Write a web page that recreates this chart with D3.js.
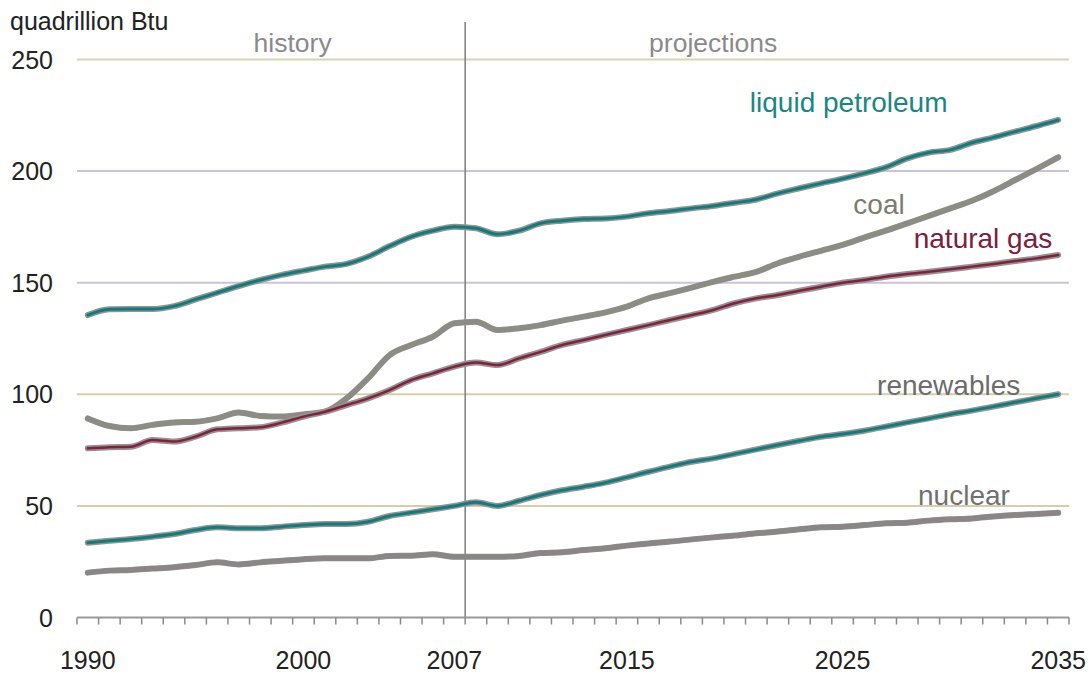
<!DOCTYPE html>
<html>
<head>
<meta charset="utf-8">
<script src="https://cdn.jsdelivr.net/npm/d3@7"></script>
<style>
  body { margin: 0; background: #fff; }
  svg { display: block; font-family: "Liberation Sans", Arial, sans-serif; }
</style>
</head>
<body>
<div id="chart"></div>
<script>
const width = 1089;
const height = 673;

// Categories / ticks
const years = d3.range(1990, 2036);
const yearLabels = [1990, 2000, 2007, 2015, 2025, 2035];
const yTicks = [0, 50, 100, 150, 200, 250];
const lastHistoryYear = 2007;

// World energy consumption by fuel, quadrillion Btu
const liquids = [
  135.5, 138.1, 138.2, 138.2, 139.5, 142.5, 145.5, 148.5, 151.2, 153.5,
  155.4, 157.2, 158.4, 161.7, 166.4, 170.6, 173.3, 175.1, 174.4, 171.7,
  173.3, 176.6, 177.8, 178.5, 178.8, 179.6, 181.1, 182.1, 183.3, 184.4,
  185.8, 187.3, 190.0, 192.3, 194.5, 196.6, 199.0, 201.7, 205.7, 208.3,
  209.5, 212.7, 215.1, 217.7, 220.2, 222.9
];
const coal = [
  89.2, 85.8, 84.8, 86.3, 87.4, 87.7, 89.2, 91.8, 90.3, 90.0,
  91.0, 92.2, 98.2, 107.2, 117.6, 122.1, 125.8, 131.8, 132.5, 128.8,
  129.6, 131.0, 133.0, 134.8, 136.7, 139.3, 143.0, 145.3, 147.8, 150.4,
  152.7, 154.9, 158.7, 161.7, 164.3, 166.9, 170.2, 173.3, 176.6, 179.9,
  183.3, 186.7, 191.0, 196.0, 201.0, 206.2
];
const naturalGas = [
  75.8, 76.3, 76.5, 79.5, 78.8, 81.0, 84.3, 84.8, 85.2, 87.3,
  90.0, 92.2, 95.2, 98.2, 101.9, 106.4, 109.4, 112.4, 114.2, 113.1,
  116.1, 119.0, 122.1, 124.3, 126.6, 128.8, 131.0, 133.3, 135.5, 137.8,
  140.8, 143.0, 144.5, 146.4, 148.2, 150.0, 151.2, 152.7, 153.9, 154.9,
  156.0, 157.2, 158.4, 159.7, 160.9, 162.4
];
const renewables = [
  33.5, 34.4, 35.2, 36.2, 37.4, 39.2, 40.4, 40.0, 40.0, 40.7,
  41.4, 41.9, 41.9, 42.9, 45.5, 47.0, 48.5, 50.0, 51.6, 50.0,
  52.3, 54.9, 57.0, 58.6, 60.4, 62.8, 65.3, 67.6, 69.8, 71.3,
  73.3, 75.3, 77.3, 79.2, 81.0, 82.2, 83.7, 85.5, 87.4, 89.2,
  91.1, 92.7, 94.5, 96.4, 98.2, 100.0
];
const nuclear = [
  20.1, 21.0, 21.3, 21.9, 22.5, 23.5, 24.7, 23.8, 24.7, 25.4,
  26.1, 26.5, 26.5, 26.5, 27.6, 27.7, 28.3, 27.2, 27.2, 27.2,
  27.6, 28.9, 29.2, 30.2, 31.0, 32.2, 33.2, 34.0, 35.0, 35.9,
  36.7, 37.7, 38.5, 39.5, 40.4, 40.7, 41.4, 42.2, 42.5, 43.4,
  44.0, 44.4, 45.2, 45.9, 46.4, 46.9
];

const seriesNames = ["liquid petroleum", "coal", "natural gas", "renewables", "nuclear"];
const seriesValues = [liquids, coal, naturalGas, renewables, nuclear];
// label anchors in data units (year, value)
const labelYears = [2020.7, 2025.5, 2028.3, 2026.6, 2028.5];
const labelValues = [226.5, 180.8, 165.5, 99.7, 50.4];

// styles per series
const coreColor = ["#0f7d7b", "#8c8c84", "#84203a", "#0f7d7b", "#8a8686"];
const coreWidth = [3, 5, 2.5, 3, 5];
const labelColor = ["#1a8684", "#7b7b72", "#7a2040", "#6c6c6c", "#707070"];
const gridColor = { 250: "#d8d4b4", 200: "#cbc3dc", 150: "#cbc3dc", 100: "#d3cfae", 50: "#d3cfae" };

// Scales: one band per year, lines through band centres
const x = d3.scaleLinear()
    .domain([1989.5, 2035.5])
    .range([77, 1069]);

const y = d3.scaleLinear()
    .domain([0, 250])
    .range([617.5, 59.5]);

const svg = d3.select("#chart")
    .append("svg")
    .attr("width", width)
    .attr("height", height);

// Gridlines
svg.append("g")
    .selectAll("line")
    .data(yTicks.filter(d => d > 0))
    .join("line")
    .attr("x1", x(1989.5))
    .attr("x2", x(2035.5))
    .attr("y1", d => y(d))
    .attr("y2", d => y(d))
    .attr("stroke", d => gridColor[d])
    .attr("stroke-width", 2);

// Y tick labels
svg.append("g")
    .selectAll("text")
    .data(yTicks)
    .join("text")
    .attr("x", x(1989.5) - 24)
    .attr("y", d => y(d) + 9)
    .attr("text-anchor", "end")
    .attr("font-size", 25)
    .attr("fill", "#222")
    .text(d => d);

// Unit title
svg.append("text")
    .attr("x", 10)
    .attr("y", 30)
    .attr("font-size", 25)
    .attr("fill", "#222")
    .text("quadrillion Btu");

// History / projections divider
svg.append("line")
    .attr("x1", x(lastHistoryYear + 0.5))
    .attr("x2", x(lastHistoryYear + 0.5))
    .attr("y1", 22)
    .attr("y2", y(0))
    .attr("stroke", "#7d7d7d")
    .attr("stroke-width", 1.5);

svg.append("text")
    .attr("x", x(1999.5))
    .attr("y", y(250) - 8)
    .attr("text-anchor", "middle")
    .attr("font-size", 26.5)
    .attr("fill", "#8a8a8a")
    .text("history");

svg.append("text")
    .attr("x", x(2019))
    .attr("y", y(250) - 8)
    .attr("text-anchor", "middle")
    .attr("font-size", 26.5)
    .attr("fill", "#8a8a8a")
    .text("projections");

// X axis line + boundary ticks
const xAxis = svg.append("g");
xAxis.append("line")
    .attr("x1", x(1989.5))
    .attr("x2", x(2035.5))
    .attr("y1", y(0))
    .attr("y2", y(0))
    .attr("stroke", "#9a9a9a")
    .attr("stroke-width", 2);

xAxis.selectAll(".tick")
    .data(years.concat([2036]))
    .join("line")
    .attr("class", "tick")
    .attr("x1", d => x(d - 0.5))
    .attr("x2", d => x(d - 0.5))
    .attr("y1", y(0))
    .attr("y2", y(0) + 7)
    .attr("stroke", "#8a8a8a")
    .attr("stroke-width", 1.5);

xAxis.selectAll(".label")
    .data(yearLabels)
    .join("text")
    .attr("class", "label")
    .attr("x", d => x(d))
    .attr("y", y(0) + 51)
    .attr("text-anchor", "middle")
    .attr("font-size", 25)
    .attr("fill", "#222")
    .text(d => d);

// Lines
const line = d3.line()
    .x((d, i) => x(years[i]))
    .y(d => y(d))
    .curve(d3.curveMonotoneX);

const series = svg.append("g")
    .selectAll("g")
    .data(seriesValues)
    .join("g");

series.append("path")
    .attr("d", d => line(d))
    .attr("fill", "none")
    .attr("stroke", "#939393")
    .attr("stroke-width", 6)
    .attr("stroke-linejoin", "round")
    .attr("stroke-linecap", "round");

series.append("path")
    .attr("d", d => line(d))
    .attr("fill", "none")
    .attr("stroke", (d, i) => coreColor[i])
    .attr("stroke-width", (d, i) => coreWidth[i])
    .attr("stroke-linejoin", "round")
    .attr("stroke-linecap", "round");

// Series labels
svg.append("g")
    .selectAll("text")
    .data(seriesNames)
    .join("text")
    .attr("x", (d, i) => x(labelYears[i]))
    .attr("y", (d, i) => y(labelValues[i]))
    .attr("font-size", 28)
    .attr("fill", (d, i) => labelColor[i])
    .text(d => d);
</script>
</body>
</html>
